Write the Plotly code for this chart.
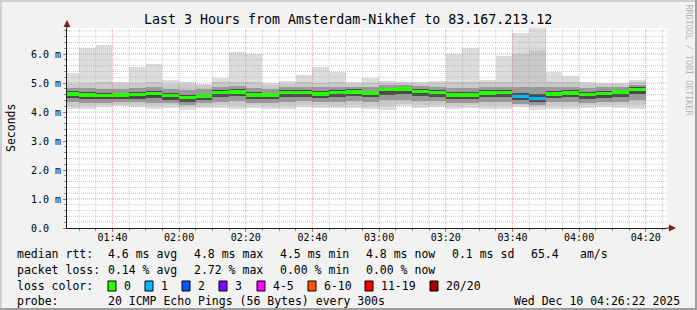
import plotly.graph_objects as go
from datetime import datetime, timedelta

# ---------------- data ----------------
title_text = "Last 3 Hours from Amsterdam-Nikhef to 83.167.213.12"
t_start = datetime(2025, 12, 10, 1, 26, 22)
t_end = datetime(2025, 12, 10, 4, 26, 22)
first_step_end = datetime(2025, 12, 10, 1, 30)
step_s = 300

# values in milliseconds, one per 5-minute step
rtt_median = [4.63, 4.59, 4.58, 4.59, 4.60, 4.64, 4.57, 4.50, 4.56, 4.68, 4.70, 4.59, 4.59, 4.67, 4.67, 4.63, 4.67, 4.70,
              4.66, 4.77, 4.79, 4.71, 4.68, 4.59, 4.59, 4.66, 4.68, 4.54, 4.47, 4.62, 4.66, 4.60, 4.64, 4.69, 4.78]
rtt_max = [5.35, 6.21, 6.32, 5.04, 5.57, 5.67, 5.11, 5.04, 4.97, 5.17, 6.07, 6.00, 5.00, 5.06, 5.29, 5.54, 5.37, 5.02,
           5.17, 5.06, 5.04, 5.04, 5.06, 6.00, 6.21, 5.11, 5.92, 6.72, 6.95, 5.37, 5.23, 5.04, 5.00, 5.00, 5.10]
rtt_p90 = [4.98, 5.00, 5.02, 4.96, 5.00, 5.02, 4.98, 4.96, 4.93, 5.02, 5.05, 5.02, 4.95, 4.98, 5.02, 5.00, 5.02, 4.97,
           5.00, 5.00, 5.00, 4.98, 5.00, 5.02, 5.04, 5.02, 5.04, 6.00, 6.15, 5.04, 5.05, 4.98, 4.96, 4.97, 5.05]
rtt_p75 = [4.84, 4.82, 4.80, 4.80, 4.83, 4.86, 4.80, 4.76, 4.78, 4.88, 4.90, 4.82, 4.80, 4.86, 4.88, 4.85, 4.87, 4.88,
           4.86, 4.93, 4.94, 4.90, 4.88, 4.82, 4.84, 4.87, 4.88, 4.86, 4.85, 4.85, 4.88, 4.82, 4.86, 4.88, 4.95]
rtt_p60 = [4.71, 4.68, 4.66, 4.67, 4.69, 4.72, 4.66, 4.60, 4.64, 4.75, 4.78, 4.68, 4.67, 4.75, 4.76, 4.72, 4.75, 4.78,
           4.74, 4.84, 4.86, 4.79, 4.77, 4.68, 4.69, 4.75, 4.76, 4.66, 4.62, 4.71, 4.75, 4.69, 4.73, 4.77, 4.85]
rtt_p40 = [4.47, 4.44, 4.44, 4.45, 4.46, 4.48, 4.43, 4.36, 4.42, 4.52, 4.54, 4.45, 4.44, 4.51, 4.52, 4.48, 4.52, 4.55,
           4.51, 4.60, 4.62, 4.56, 4.53, 4.44, 4.45, 4.51, 4.52, 4.40, 4.34, 4.47, 4.51, 4.45, 4.49, 4.53, 4.62]
rtt_p25 = [4.33, 4.30, 4.32, 4.34, 4.33, 4.32, 4.31, 4.26, 4.30, 4.36, 4.37, 4.32, 4.30, 4.36, 4.37, 4.34, 4.36, 4.38,
           4.35, 4.40, 4.42, 4.38, 4.38, 4.30, 4.31, 4.34, 4.36, 4.28, 4.24, 4.33, 4.35, 4.31, 4.34, 4.36, 4.40]
rtt_p10 = [4.22, 4.20, 4.24, 4.26, 4.25, 4.20, 4.23, 4.17, 4.22, 4.24, 4.22, 4.24, 4.20, 4.22, 4.25, 4.23, 4.22, 4.24,
           4.22, 4.20, 4.28, 4.25, 4.26, 4.21, 4.23, 4.20, 4.22, 4.24, 4.17, 4.22, 4.20, 4.23, 4.25, 4.24, 4.24]
rtt_min = [4.12, 4.10, 4.18, 4.20, 4.18, 4.10, 4.15, 4.08, 4.14, 4.14, 4.12, 4.15, 4.10, 4.12, 4.16, 4.14, 4.13, 4.15,
           4.12, 4.08, 4.20, 4.15, 4.18, 4.12, 4.14, 4.10, 4.12, 4.16, 4.08, 4.12, 4.10, 4.14, 4.16, 4.14, 4.12]
loss_count = [0, 0, 0, 0, 0, 0, 0, 0, 0, 0, 0, 0, 0, 0, 0, 0, 0, 0,
              0, 0, 0, 0, 0, 0, 0, 0, 0, 1, 1, 0, 0, 0, 0, 0, 0]

y_tick_vals = [0, 1, 2, 3, 4, 5, 6]
y_tick_text = ["0.0\u00a0\u00a0", "1.0 m", "2.0 m", "3.0 m", "4.0 m", "5.0 m", "6.0 m"]

loss_labels = ["0", "1", "2", "3", "4-5", "6-10", "11-19", "20/20"]
loss_colors = ["#26ff00", "#00b8ff", "#0059ff", "#7e00ff", "#ff00ff", "#ff5500", "#ff0000", "#a10000"]

stats_rtt = ["4.6 ms avg", "4.8 ms max", "4.5 ms min", "4.8 ms now", "0.1 ms sd", "65.4", "am/s"]
stats_loss = ["0.14 % avg", "2.72 % max", "0.00 % min", "0.00 % now"]
probe_text = "20 ICMP Echo Pings (56 Bytes) every 300s"
date_text = "Wed Dec 10 04:26:22 2025"

# ---------------- layout geometry (pixels) ----------------
W, H = 697, 310
L, R, T, B = 67, 667, 28, 228
Y_MAX = 6.9
FONT = "DejaVu Sans Mono"


def px(x):
    return (x - L) / (R - L)


def py(y):
    return (B - y) / (B - T)


ends = [first_step_end + timedelta(seconds=step_s * i) for i in range(len(rtt_median))]
centers = [e - timedelta(seconds=step_s / 2) for e in ends]
width_ms = step_s * 1000

fig = go.Figure()
layers = [
    (rtt_min, rtt_max, "#dddddd"),
    (rtt_p10, rtt_p90, "#cacaca"),
    (rtt_p25, rtt_p75, "#9a9a9a"),
    (rtt_p40, rtt_p60, "#4a4a4a"),
]
for lo, hi, col in layers:
    fig.add_trace(go.Bar(x=centers, base=lo, y=[h - l for l, h in zip(lo, hi)], width=width_ms,
                         marker=dict(color=col, line=dict(width=0)), hoverinfo="skip", showlegend=False))

sw = 0.12
med_colors = [loss_colors[c] if c < 4 else loss_colors[-1] for c in loss_count]
fig.add_trace(go.Bar(x=centers, base=[m - sw / 2 for m in rtt_median], y=[sw] * len(rtt_median), width=width_ms,
                     marker=dict(color=med_colors, line=dict(width=0)), showlegend=False))

shapes = []
# grid drawn above the data, like rrdtool
t = first_step_end
while t < t_end:
    major = (t.minute % 20 == 0)
    shapes.append(dict(type="line", xref="x", yref="y", x0=t, x1=t, y0=0, y1=Y_MAX, layer="above",
                       line=dict(color="rgba(222,79,79,0.55)" if major else "rgba(143,143,143,0.45)",
                                 width=1, dash="1px,1px")))
    t += timedelta(seconds=step_s)
for i in range(1, 35):
    v = round(i * 0.2, 1)
    major = (i % 5 == 0)
    shapes.append(dict(type="line", xref="paper", yref="y", x0=0, x1=1, y0=v, y1=v, layer="above",
                       line=dict(color="rgba(222,79,79,0.55)" if major else "rgba(143,143,143,0.45)",
                                 width=1, dash="1px,1px")))

# frame shading
shapes += [
    dict(type="rect", xref="paper", yref="paper", x0=px(0), x1=px(W), y0=py(0), y1=py(2), line=dict(width=0), fillcolor="#cfcfcf", layer="below"),
    dict(type="rect", xref="paper", yref="paper", x0=px(0), x1=px(2), y0=py(0), y1=py(H), line=dict(width=0), fillcolor="#cfcfcf", layer="below"),
    dict(type="rect", xref="paper", yref="paper", x0=px(W - 2), x1=px(W), y0=py(0), y1=py(H), line=dict(width=0), fillcolor="#9e9e9e", layer="below"),
    dict(type="rect", xref="paper", yref="paper", x0=px(0), x1=px(W), y0=py(H - 2), y1=py(H), line=dict(width=0), fillcolor="#9e9e9e", layer="below"),
]
# axis extensions and arrows
shapes += [
    dict(type="line", xref="paper", yref="paper", x0=px(R), x1=px(670), y0=py(B), y1=py(B), line=dict(color="#1f1f1f", width=1)),
    dict(type="path", xref="paper", yref="paper",
         path=f"M {px(669)},{py(B - 3.5)} L {px(676)},{py(B)} L {px(669)},{py(B + 3.5)} Z",
         fillcolor="#7f1f1f", line=dict(width=0)),
    dict(type="line", xref="paper", yref="paper", x0=px(L), x1=px(L), y0=py(T), y1=py(24), line=dict(color="#1f1f1f", width=1)),
    dict(type="path", xref="paper", yref="paper",
         path=f"M {px(L - 3.5)},{py(27)} L {px(L)},{py(20)} L {px(L + 3.5)},{py(27)} Z",
         fillcolor="#7f1f1f", line=dict(width=0)),
]

annotations = []


def text(s, x, y, anchor="left", size=11.5, color="#000000", angle=0):
    annotations.append(dict(text=s, xref="paper", yref="paper", x=px(x), y=py(y), xanchor=anchor, yanchor="middle",
                            showarrow=False, textangle=angle, borderpad=0,
                            font=dict(family=FONT, size=size, color=color)))


text(title_text, 348, 19, anchor="center", size=13.3)
text("Seconds", 11, 128, anchor="center", size=11.5, angle=-90)
text("RRDTOOL / TOBI OETIKER", 688.5, 60, anchor="center", size=8.4, color="#b4b4b4", angle=90)

row_y = [254, 270, 286, 301]
text("median rtt:", 16, row_y[0])
for s, x in zip(stats_rtt, [107, 192.5, 278.5, 364.5, 451, 530, 579]):
    text(s, x, row_y[0])
text("packet loss:", 16, row_y[1])
for s, x in zip(stats_loss, [107, 192.5, 278.5, 364.5]):
    text(s, x, row_y[1])
text("loss color:", 16, row_y[2])
box_x = [108, 145, 182, 219, 257, 308, 365, 430]
for lab, col, bx in zip(loss_labels, loss_colors, box_x):
    shapes.append(dict(type="rect", xref="paper", yref="paper", x0=px(bx), x1=px(bx + 8), y0=py(row_y[2] - 5), y1=py(row_y[2] + 5),
                       fillcolor=col, line=dict(color="#000000", width=1)))
    text(lab, bx + 15, row_y[2])
text("probe:", 16, row_y[3])
text(probe_text, 107, row_y[3])
text(date_text, 681, row_y[3], anchor="right")

fig.update_layout(
    width=W, height=H,
    margin=dict(l=L, r=W - R, t=T, b=H - B, pad=0),
    paper_bgcolor="#f2f2f2", plot_bgcolor="#ffffff",
    barmode="overlay", bargap=0,
    showlegend=False,
    shapes=shapes, annotations=annotations,
    xaxis=dict(type="date", range=[t_start, t_end], showgrid=False, zeroline=False,
               showline=True, linecolor="#1f1f1f", linewidth=1,
               ticks="outside", ticklen=3, tickcolor="rgba(222,79,79,0.9)",
               tick0="2025-12-10 00:00:00", dtick=20 * 60 * 1000, tickformat="%H:%M",
               tickfont=dict(family=FONT, size=10, color="#000000"), ticklabelstandoff=-3,
               minor=dict(dtick=5 * 60 * 1000, tick0="2025-12-10 00:00:00", ticks="outside", ticklen=2,
                          tickcolor="#8f8f8f", showgrid=False),
               fixedrange=True),
    yaxis=dict(range=[0, Y_MAX], showgrid=False, zeroline=False,
               showline=True, linecolor="#1f1f1f", linewidth=1,
               ticks="outside", ticklen=3, tickcolor="rgba(222,79,79,0.9)",
               tickvals=y_tick_vals, ticktext=y_tick_text,
               tickfont=dict(family=FONT, size=10, color="#000000"),
               minor=dict(dtick=0.2, ticks="outside", ticklen=2, tickcolor="#8f8f8f", showgrid=False),
               fixedrange=True),
)

fig.write_html("out.html", config=dict(displayModeBar=False))
